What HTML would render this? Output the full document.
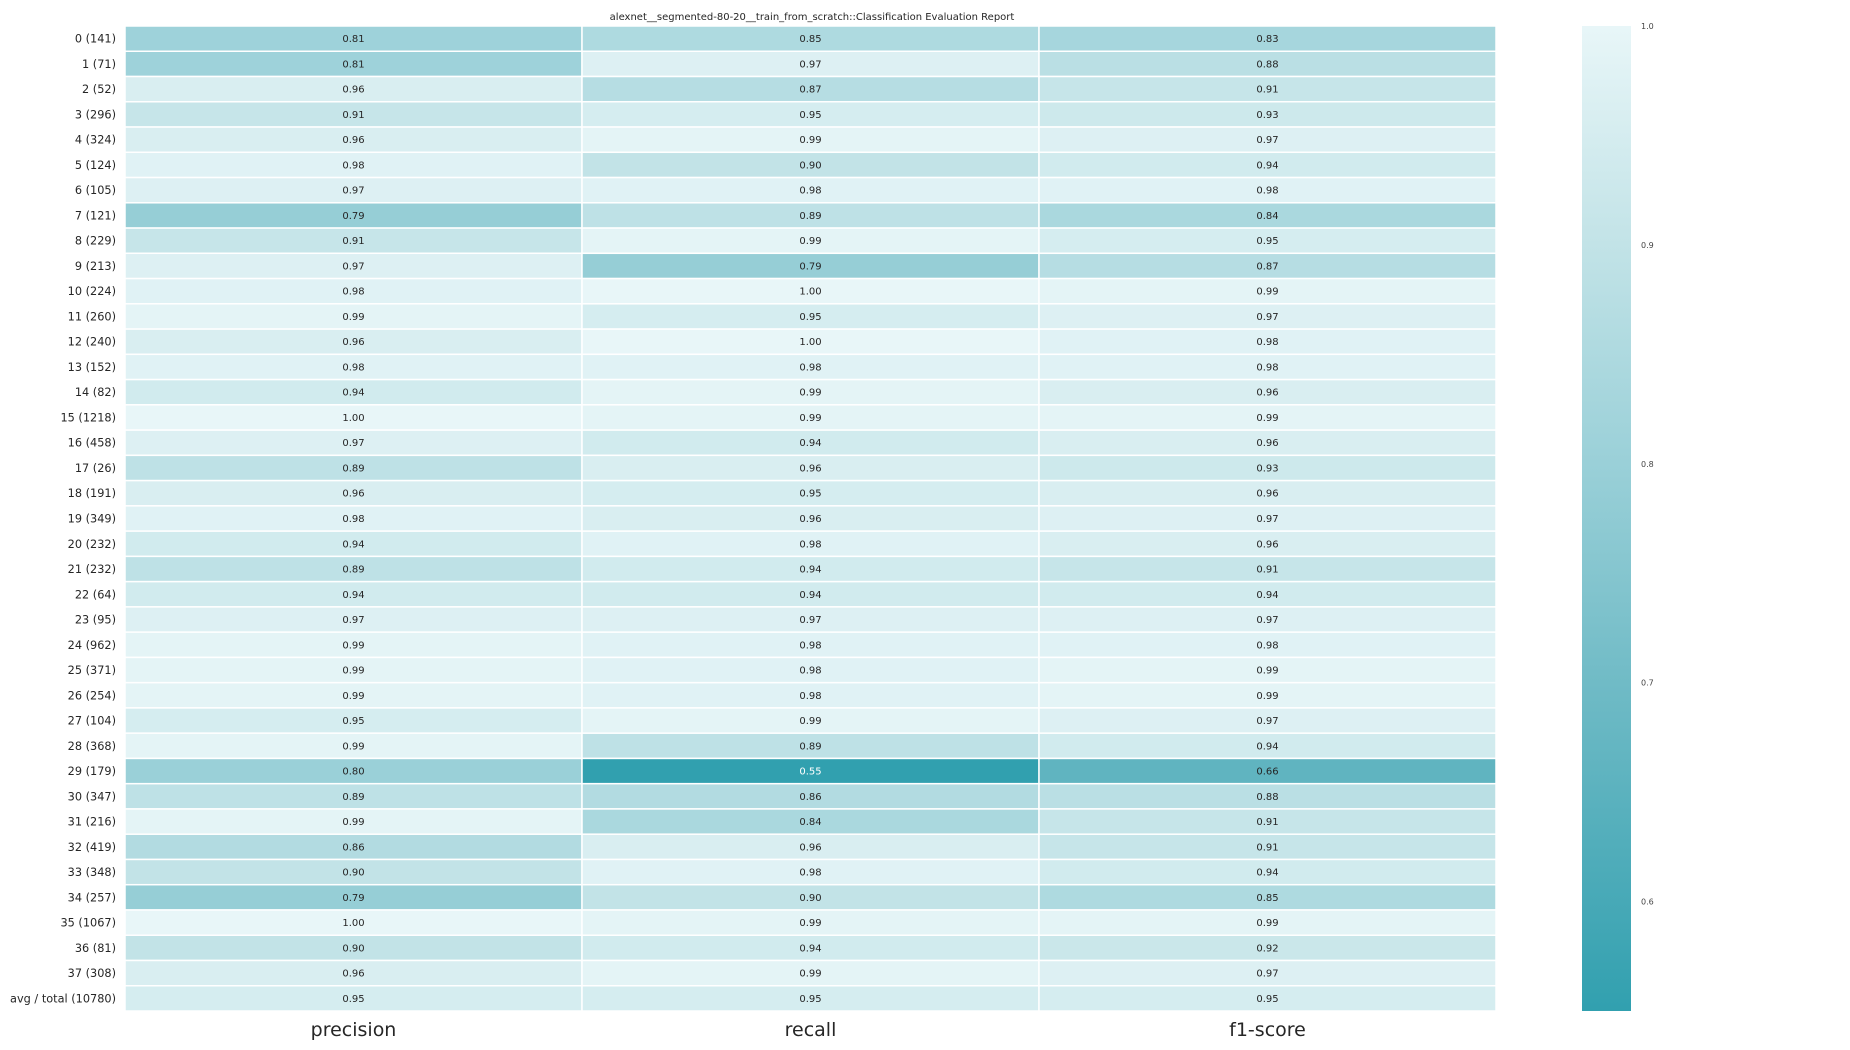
<!DOCTYPE html>
<html><head><meta charset="utf-8"><style>
html,body{margin:0;padding:0;background:#fff;width:1850px;height:1050px;overflow:hidden}
svg{display:block;font-family:"DejaVu Sans","Liberation Sans",sans-serif}
</style></head><body>
<svg id="chart" width="1850" height="1050">
<defs><linearGradient id="cbg" x1="0" y1="0" x2="0" y2="1">
<stop offset="0" stop-color="#e8f6f8"/><stop offset="0.222" stop-color="#c2e3e7"/><stop offset="0.444" stop-color="#9ad0d8"/><stop offset="0.667" stop-color="#70bbc6"/><stop offset="0.889" stop-color="#47a9b7"/><stop offset="1" stop-color="#31a0af"/>
</linearGradient></defs>
<text x="812" y="20" font-size="10" text-anchor="middle" fill="#262626">alexnet__segmented-80-20__train_from_scratch::Classification Evaluation Report</text>
<g id="cells"></g>
<rect x="1582" y="26" width="49" height="985" fill="url(#cbg)"/>
<g id="cbticks"></g>
</svg>
<script>
const rowLabels=["0 (141)","1 (71)","2 (52)","3 (296)","4 (324)","5 (124)","6 (105)","7 (121)","8 (229)","9 (213)","10 (224)","11 (260)","12 (240)","13 (152)","14 (82)","15 (1218)","16 (458)","17 (26)","18 (191)","19 (349)","20 (232)","21 (232)","22 (64)","23 (95)","24 (962)","25 (371)","26 (254)","27 (104)","28 (368)","29 (179)","30 (347)","31 (216)","32 (419)","33 (348)","34 (257)","35 (1067)","36 (81)","37 (308)","avg / total (10780)"];
const colLabels=["precision","recall","f1-score"];
const precision=[0.81,0.81,0.96,0.91,0.96,0.98,0.97,0.79,0.91,0.97,0.98,0.99,0.96,0.98,0.94,1.00,0.97,0.89,0.96,0.98,0.94,0.89,0.94,0.97,0.99,0.99,0.99,0.95,0.99,0.80,0.89,0.99,0.86,0.90,0.79,1.00,0.90,0.96,0.95];
const recall=[0.85,0.97,0.87,0.95,0.99,0.90,0.98,0.89,0.99,0.79,1.00,0.95,1.00,0.98,0.99,0.99,0.94,0.96,0.95,0.96,0.98,0.94,0.94,0.97,0.98,0.98,0.98,0.99,0.89,0.55,0.86,0.84,0.96,0.98,0.90,0.99,0.94,0.99,0.95];
const f1score=[0.83,0.88,0.91,0.93,0.97,0.94,0.98,0.84,0.95,0.87,0.99,0.97,0.98,0.98,0.96,0.99,0.96,0.93,0.96,0.97,0.96,0.91,0.94,0.97,0.98,0.99,0.99,0.97,0.94,0.66,0.88,0.91,0.91,0.94,0.85,0.99,0.92,0.97,0.95];
const cbTicks=[1.0,0.9,0.8,0.7,0.6];
const vmin=0.55,vmax=1.0;
const NS="http://www.w3.org/2000/svg";
const X0=125,X1=1496,Y0=26,Y1=1011;
const colW=(X1-X0)/colLabels.length,rowH=(Y1-Y0)/rowLabels.length;
const xPos=i=>X0+i*colW, yPos=j=>Y0+j*rowH;
const stops=[[1.0,[232,246,248]],[0.9,[194,227,231]],[0.8,[154,208,216]],[0.7,[112,187,198]],[0.6,[71,169,183]],[0.55,[49,160,175]]];
function color(v){
 for(let k=0;k<stops.length-1;k++){const a=stops[k],b=stops[k+1];
  if(v<=a[0]&&v>=b[0]){const t=(a[0]-v)/(a[0]-b[0]);return "rgb("+a[1].map((c,i)=>Math.round(c+(b[1][i]-c)*t)).join(",")+")";}}
 return v>1?"rgb(232,246,248)":"rgb(49,160,175)";
}
const cells=document.getElementById('cells');
const series=[precision,recall,f1score];
function mk(tag,attrs,txt){const e=document.createElementNS(NS,tag);for(const k in attrs)e.setAttribute(k,attrs[k]);if(txt!=null)e.textContent=txt;cells.appendChild(e);return e;}
series.forEach((arr,i)=>{arr.forEach((v,j)=>{
 const r=mk('rect',{x:xPos(i),y:yPos(j),width:colW,height:rowH,fill:color(v),stroke:'#fff','stroke-width':1.5});
 
 
 const t=mk('text',{x:xPos(i)+colW/2,y:yPos(j)+rowH/2+3.5,'font-size':10,'text-anchor':'middle',fill:v<0.65?'#ffffff':'#262626'},v.toFixed(2));
 
 
});});
rowLabels.forEach((l,j)=>{
 const t=mk('text',{x:116,y:yPos(j)+rowH/2+4,'font-size':11.3,'text-anchor':'end',fill:'#262626'},l);
 
 
});
colLabels.forEach((l,i)=>{
 const t=mk('text',{x:xPos(i)+colW/2,y:1036,'font-size':19,'text-anchor':'middle',fill:'#262626'},l);
 
 
});
const cb=document.getElementById('cbticks');
cbTicks.forEach(v=>{
 const y=26+(vmax-v)/(vmax-vmin)*985;
 const t=document.createElementNS(NS,'text');
 t.setAttribute('x',1641);t.setAttribute('y',y+3);t.setAttribute('font-size',8);t.setAttribute('fill','#444');
 t.textContent=v.toFixed(1);
 
 
 cb.appendChild(t);
});
</script>
</body></html>
